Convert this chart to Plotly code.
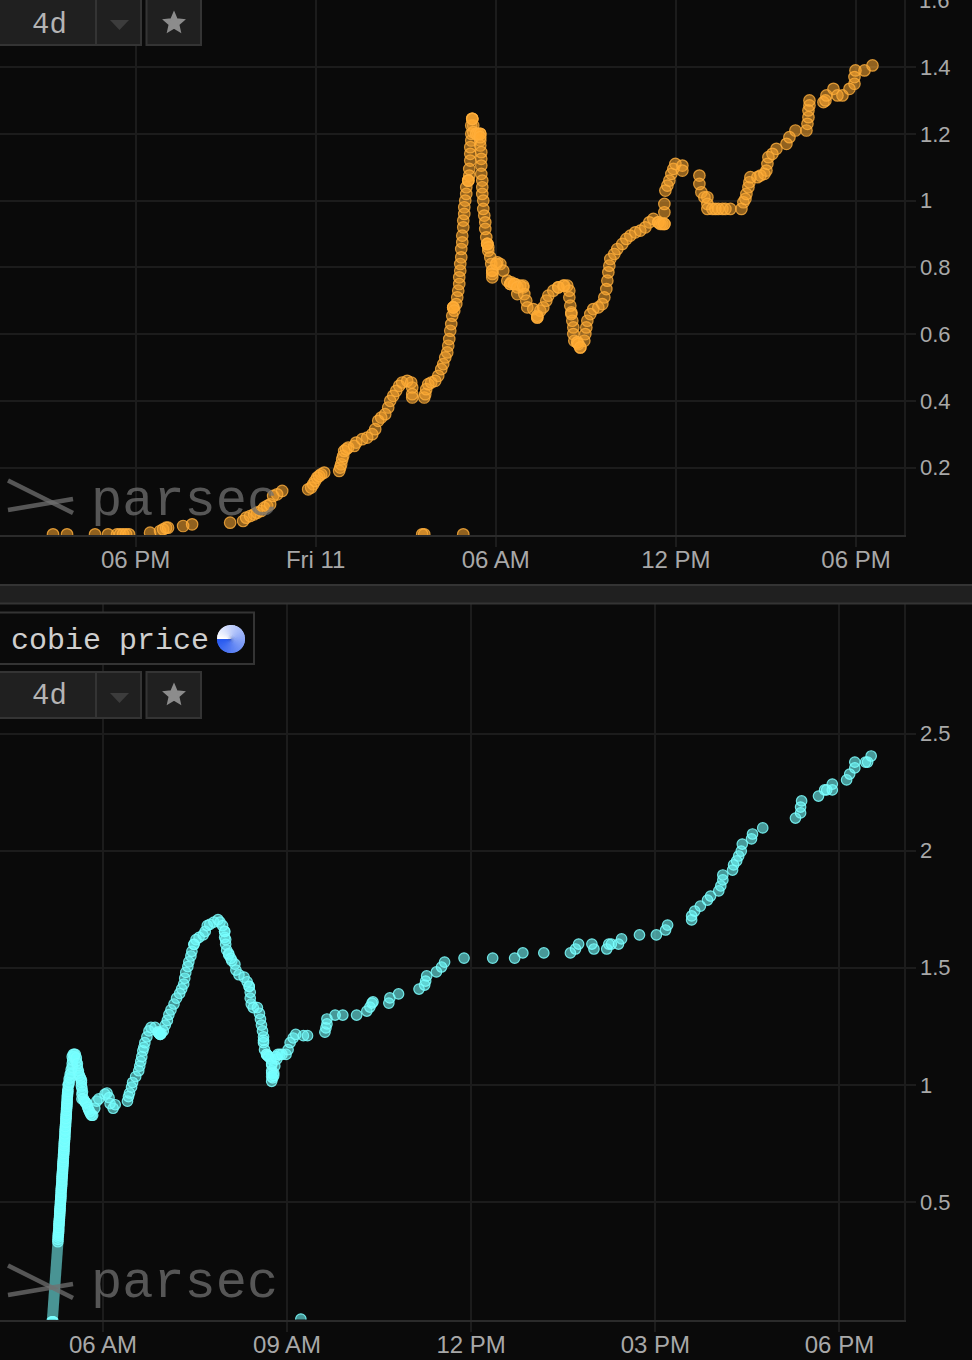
import math
import plotly.graph_objects as go

# ---------- data (minutes after the first tick, price) ----------
top_tick_minutes = [0, 360, 720, 1080, 1440]
top_tick_labels = ["06 PM", "Fri 11", "06 AM", "12 PM", "06 PM"]
top_price_ticks = [0.2, 0.4, 0.6, 0.8, 1.0, 1.2, 1.4]
top_price_labels = ["0.2", "0.4", "0.6", "0.8", "1", "1.2", "1.4"]

top_points = [
    (-165,0),(-137,0),(-81,0),(-55,0),(-37,0),(-31,0),(-25,0),(-19,0),(-13,0),(29,.005),(49,.01),(55,.015),(61,.02),(65,.02),
    (95,.025),(113,.03),(189,.035),(215,.04),(221,.05),(229,.055),(237,.06),(243,.065),(251,.07),(257,.08),(263,.085),(269,.09),
    (275,.115),(283,.12),(293,.13),(345,.135),(351,.14),(355,.15),(359,.16),(363,.17),(367,.175),(371,.18),(377,.185),
    (407,.19),(409,.2),(411,.21),(413,.225),(415,.235),(417,.25),(421,.255),(425,.26),(437,.265),(441,.275),(453,.285),(463,.29),
    (473,.3),(479,.315),(485,.34),(491,.35),(499,.36),(505,.38),(509,.4),(515,.415),(521,.43),(527,.445),(533,.455),(543,.46),
    (551,.455),(553,.44),(553,.42),(553,.41),(573,0),(577,0),(655,0),(577,.41),(579,.42),(581,.435),(585,.45),(591,.455),(599,.46),
    (605,.475),(611,.495),(615,.51),(619,.53),(623,.545),(625,.565),(627,.585),(629,.61),(631,.63),(633,.655),(635,.68),(641,.69),
    (643,.71),(645,.73),(647,.75),(647,.77),(649,.79),(649,.81),(651,.83),(651,.855),(653,.875),(653,.895),(655,.92),(655,.94),
    (657,.96),(657,.98),(659,1.0),(661,1.02),(661,1.04),(665,1.06),(667,1.075),(667,1.095),(669,1.12),(669,1.14),(669,1.16),
    (671,1.18),(671,1.2),(671,1.225),(673,1.245),(675,1.225),(675,1.205),(681,1.2),(689,1.2),(689,1.18),(689,1.165),(691,1.145),
    (691,1.125),(691,1.105),(691,1.08),(693,1.06),(693,1.04),(693,1.02),(695,1.0),(695,.975),(697,.955),(699,.935),(699,.915),
    (701,.89),(703,.87),(705,.85),(709,.83),(711,.81),(713,.79),(713,.77),(723,.815),(729,.81),(735,.79),(743,.76),(749,.75),
    (759,.75),(763,.72),(769,.745),(775,.74),(777,.72),(781,.70),(783,.68),(795,.675),(803,.65),(809,.67),(815,.68),(821,.70),
    (825,.715),(835,.73),(845,.74),(855,.745),(863,.745),(867,.73),(867,.71),(869,.685),(871,.665),(873,.64),(875,.62),(875,.6),
    (877,.58),(883,.575),(889,.56),(897,.58),(899,.6),(901,.62),(903,.64),(909,.66),(915,.675),(925,.68),(933,.69),(937,.71),
    (941,.735),(943,.76),(945,.785),(947,.805),(949,.825),(957,.84),(963,.855),(973,.87),(981,.885),(989,.895),(999,.905),
    (1009,.91),(1019,.92),(1027,.935),(1035,.945),(1045,.935),(1057,.93),(1057,.965),(1057,.99),(1059,1.03),(1063,1.045),
    (1067,1.06),(1071,1.08),(1075,1.095),(1079,1.11),(1093,1.105),(1093,1.09),(1127,1.075),(1127,1.05),(1131,1.025),(1137,1.01),
    (1143,1.01),(1143,.99),(1143,.975),(1153,.975),(1159,.975),(1165,.975),(1173,.975),(1179,.975),(1189,.975),(1211,.975),
    (1215,.995),(1219,1.005),(1221,1.02),(1225,1.04),(1227,1.055),(1229,1.07),(1243,1.07),(1249,1.075),(1257,1.08),(1261,1.09),
    (1263,1.11),(1265,1.13),(1273,1.14),(1281,1.155),(1301,1.17),(1307,1.19),(1319,1.21),(1341,1.21),(1343,1.23),(1345,1.25),
    (1345,1.27),(1347,1.285),(1347,1.3),(1375,1.295),(1379,1.3),(1381,1.315),(1395,1.335),(1403,1.315),(1413,1.315),(1427,1.335),
    (1437,1.35),(1437,1.37),(1439,1.39),(1457,1.39),(1473,1.405),
    # repeated trades that brighten the busy spots
    (665,1.06),(665,1.06),(673,1.245),(673,1.245),(681,1.2),(685,1.2),(689,1.2),(689,1.19),(635,.68),(635,.68),(637,.67),(703,.87),
    (703,.87),(705,.86),(713,.79),(713,.78),(721,.81),(749,.75),(751,.755),(757,.75),(763,.74),(775,.745),(803,.65),(803,.655),
    (845,.74),(857,.745),(871,.66),(883,.575),(885,.57),(889,.56),(1045,.935),(1049,.93),(1053,.93),(1057,.93),
]

bottom_tick_minutes = [0, 180, 360, 540, 720]
bottom_tick_labels = ["06 AM", "09 AM", "12 PM", "03 PM", "06 PM"]
bottom_price_ticks = [0.5, 1.0, 1.5, 2.0, 2.5]
bottom_price_labels = ["0.5", "1", "1.5", "2", "2.5"]

bottom_first_leg_minutes = [-49.5, -44]
bottom_first_leg_values = [-0.01, 0.325]

bottom_points = [
    (-50,-.012),(-49.5,-.012),(-49,-.012),(-48.5,-.012),
    (-44,.33),(-43.8,.35),(-43.5,.365),(-43.2,.38),(-43,.40),(-42.8,.415),(-42.5,.43),(-42.2,.45),(-42,.465),(-41.8,.48),(-41.5,.50),
    (-41.2,.515),(-41,.53),(-40.8,.55),(-40.5,.565),(-40.2,.58),(-40,.60),(-39.8,.615),(-39.5,.63),(-39.2,.65),(-39,.665),(-38.8,.68),
    (-38.5,.70),(-38.2,.715),(-38,.73),(-37.8,.75),(-37.5,.765),(-37.2,.78),(-37,.80),(-36.8,.815),(-36.5,.83),(-36.2,.85),(-36,.865),
    (-35.8,.88),(-35.5,.90),(-35.2,.915),(-35,.93),(-34.8,.95),(-34.5,.965),(-34.2,.98),
    (-43.9,.34),(-43.6,.358),(-43.3,.372),(-43.1,.39),(-42.9,.407),(-42.6,.422),(-42.3,.44),(-42.1,.457),(-41.9,.472),(-41.6,.49),
    (-41.3,.507),(-41.1,.522),(-40.9,.54),(-40.6,.557),(-40.3,.572),(-40.1,.59),(-39.9,.607),(-39.6,.622),(-39.3,.64),(-39.1,.657),
    (-38.9,.672),(-38.6,.69),(-38.3,.707),(-38.1,.722),(-37.9,.74),(-37.6,.757),(-37.3,.772),(-37.1,.79),(-36.9,.807),(-36.6,.822),
    (-36.3,.84),(-36.1,.857),(-35.9,.872),(-35.6,.89),(-35.3,.907),(-35.1,.922),(-34.9,.94),(-34.6,.957),(-34.3,.972),
    (-34,1.0),(-33,1.025),(-32,1.045),(-31,1.065),(-30,1.09),(-30,1.12),(-29,1.13),(-27,1.13),(-26,1.10),(-25,1.075),(-24,1.05),
    (-22,1.03),(-21,1.01),(-20.5,.985),(-20.5,.96),(-20.5,.94),(-18,.93),(-16,.92),(-14,.895),(-12,.875),(-10,.87),(-8,.90),(-6,.93),
    (-33.5,1.0),(-33,1.01),(-32,1.03),(-31,1.05),(-30,1.075),(-29.5,1.105),(-28,1.12),(-28,1.13),(-26,1.115),(-25,1.09),(-24,1.06),
    (-23,1.04),(-21,1.02),(-21,.995),(-20,.97),(-19,.94),(-17,.925),(-15,.905),(-13,.885),(-11,.87),
    (-4,.94),(2,.96),(4,.965),(6,.945),(7,.92),(10,.90),(12,.915),(24,.93),(25,.95),(26,.965),(28,.99),(29,1.01),(32,1.035),(35,1.06),
    (36,1.08),(37,1.10),(38,1.12),(39,1.145),(40,1.16),(41,1.18),(43,1.205),(45,1.23),(47,1.245),(51,1.245),(54,1.225),(56,1.215),
    (59,1.23),(61,1.255),(63,1.275),(64.5,1.30),(66.5,1.32),(69.5,1.345),(72,1.37),(75,1.39),(77,1.41),(79,1.43),(80,1.455),(81,1.48),
    (83,1.505),(84,1.525),(86,1.55),(87,1.57),(89,1.6),(91,1.62),(94,1.63),(98,1.64),(100,1.655),(102,1.68),(104.5,1.685),(108.5,1.695),
    (112.5,1.705),(114.5,1.695),(117,1.68),(119,1.655),(119,1.63),(120,1.6),(121,1.575),(123,1.555),(126,1.53),(129,1.515),(130,1.49),
    (133,1.47),(138,1.46),(141,1.44),(143,1.42),(144,1.395),(144,1.37),(145,1.345),(147,1.33),(151,1.33),(153,1.305),(154,1.28),
    (155,1.255),(156,1.23),(157,1.205),(157,1.18),(158,1.15),(160,1.13),(164,1.11),(165,1.085),(165,1.06),(165,1.035),(165,1.015),
    (167,1.05),(168,1.08),(170,1.11),(173,1.13),(179,1.13),(181,1.15),(183,1.18),(186,1.2),(188.5,1.215),(193.5,0),(196,1.21),(200,1.21),
    (54,1.225),(55,1.22),(56,1.215),(57,1.22),(89,1.6),(119,1.655),(120,1.62),(123,1.56),(125,1.54),(143,1.42),(157,1.19),(160,1.13),
    (161,1.125),(162,1.12),(165,1.09),(165,1.05),(166,1.03),(167,1.04),(169,1.12),(171,1.13),(175,1.13),
    (217,1.225),(218,1.243),(219,1.26),(219,1.281),(227,1.298),(234.5,1.298),(248,1.298),(258,1.315),(261,1.332),(263,1.349),(264,1.354),
    (279.5,1.349),(280.5,1.371),(289,1.388),(309,1.409),(314.5,1.426),(315.5,1.443),(316.5,1.465),(326,1.482),(331,1.503),(334,1.524),
    (353,1.541),(381,1.541),(402.5,1.541),(410.5,1.563),(431,1.563),(457,1.563),(462,1.58),(465,1.601),(478,1.601),(480,1.58),(492.5,1.58),
    (494.5,1.601),(497,1.601),(504,1.601),(507,1.623),(524.5,1.64),(541,1.64),(550,1.661),(552,1.682),(575.5,1.704),(575.5,1.721),
    (578.5,1.742),(584,1.763),(591,1.789),(594,1.806),(602,1.828),(604,1.849),(606,1.875),(606,1.896),(615.5,1.917),(616.5,1.939),
    (619.5,1.956),(621.5,1.977),(624,1.998),(625,2.028),(634,2.05),(635,2.071),(645,2.097),(677,2.139),(682,2.161),(682,2.186),(683,2.212),
    (699.5,2.233),(705.5,2.259),(707.5,2.259),(713,2.259),(713,2.284),(727,2.302),(730,2.327),(735,2.353),(735,2.378),(745.5,2.378),
    (747.5,2.378),(751,2.404),
]

top_minutes = [p[0] for p in top_points]
top_values = [p[1] for p in top_points]
bottom_minutes = [p[0] for p in bottom_points]
bottom_values = [p[1] for p in bottom_points]

# ---------- page geometry / colours ----------
W, H = 972, 1360
BG = "#0a0a0a"
GRID = "#1c1c1c"
AXIS = "#2b2b2b"
PANEL = "#202020"
EDGE = "#343434"
TICKTXT = "#a8a8a8"
MARK = "rgba(112,112,112,0.75)"
SANS = "Liberation Sans"
MONO = "Liberation Mono"


def px(x):
    return x / W


def py(y):
    return 1 - y / H


def rect(x0, y0, x1, y1, fill, line=EDGE, width=2):
    return dict(type="rect", xref="paper", yref="paper", layer="above",
                x0=px(x0), x1=px(x1), y0=py(y0), y1=py(y1),
                fillcolor=fill, line=dict(color=line, width=width))


def seg(x0, y0, x1, y1, color, width):
    return dict(type="line", xref="paper", yref="paper", layer="above",
                x0=px(x0), x1=px(x1), y0=py(y0), y1=py(y1),
                line=dict(color=color, width=width))


def poly(points, fill, outline=0):
    d = "M " + " L ".join(f"{px(a):.5f},{py(b):.5f}" for a, b in points) + " Z"
    return dict(type="path", xref="paper", yref="paper", layer="above", path=d,
                fillcolor=fill, line=dict(width=outline, color=fill))


def text(x, y, s, size, color, family=MONO):
    return dict(x=px(x), y=py(y), xref="paper", yref="paper", text=s, showarrow=False,
                xanchor="center", yanchor="middle", font=dict(family=family, size=size, color=color))


fig = go.Figure()
fig.add_trace(go.Scatter(
    x=top_minutes, y=top_values, mode="markers", xaxis="x", yaxis="y", showlegend=False,
    marker=dict(size=11.5, color="rgba(255,170,50,0.55)", line=dict(color="rgba(255,175,60,0.8)", width=1.2)),
))
fig.add_trace(go.Scatter(
    x=bottom_first_leg_minutes, y=bottom_first_leg_values, mode="lines", xaxis="x2", yaxis="y2", showlegend=False,
    line=dict(color="rgba(115,240,240,0.6)", width=11),
))
fig.add_trace(go.Scatter(
    x=bottom_minutes, y=bottom_values, mode="markers", xaxis="x2", yaxis="y2", showlegend=False,
    marker=dict(size=10.5, color="rgba(115,255,255,0.58)", line=dict(color="rgba(125,255,255,0.85)", width=1.2)),
))

axis_common = dict(showgrid=True, gridcolor=GRID, gridwidth=2, zeroline=False, ticks="outside",
                   ticklen=10, tickwidth=2, tickcolor=GRID)
x_font = dict(family=SANS, size=24, color=TICKTXT)
y_font = dict(family=SANS, size=22, color=TICKTXT)
fig.update_layout(
    width=W, height=H, margin=dict(l=0, r=0, t=0, b=0), paper_bgcolor=BG, plot_bgcolor=BG,
    xaxis=dict(axis_common, domain=[0, px(903.5)], range=[-271, 1535], anchor="y", tickmode="array", tickfont=x_font,
               ticklabelstandoff=-8, tickvals=top_tick_minutes, ticktext=top_tick_labels, showline=True, linecolor=AXIS, linewidth=2),
    yaxis=dict(axis_common, domain=[py(535), 1], range=[-0.002, 1.601], anchor="x", side="right", tickmode="array", tickfont=y_font,
               tickvals=top_price_ticks, ticktext=top_price_labels, showline=True, linecolor=GRID, linewidth=2),
    xaxis2=dict(axis_common, domain=[0, px(903.5)], range=[-100.6, 782.6], anchor="y2", tickmode="array", tickfont=x_font,
                ticklabelstandoff=-7, tickvals=bottom_tick_minutes, ticktext=bottom_tick_labels, showline=True, linecolor=AXIS, linewidth=2),
    yaxis2=dict(axis_common, domain=[py(1319.5), py(604)], range=[-0.002, 3.053], anchor="x2", side="right", tickmode="array", tickfont=y_font,
                tickvals=bottom_price_ticks, ticktext=bottom_price_labels, showline=True, linecolor=GRID, linewidth=2),
)

shapes = [rect(-3, 585, 975, 603.5, PANEL)]
annotations = [text(934, 1, "1.6", 22, TICKTXT, SANS)]

# watermarks
for dy_logo, dy_word in ((0, 0), (785, 782)):
    shapes.append(seg(8, 480.5 + dy_logo, 73, 513 + dy_logo, MARK, 4.5))
    shapes.append(seg(8, 510 + dy_logo, 73, 499 + dy_logo, MARK, 4.5))
    annotations.append(text(184, 501 + dy_word, "parsec", 52, MARK))


def star(cx, cy):
    pts = []
    for k in range(10):
        r = 10 if k % 2 == 0 else 4.6
        a = -math.pi / 2 + k * math.pi / 5
        pts.append((cx + r * math.cos(a), cy + r * math.sin(a)))
    return poly(pts, "#8c8c8c", 2)


# toolbar buttons
for top, label_y, star_y in ((0, 25, 23), (673, 697, 695)):
    shapes.append(rect(-3, top - 1, 141, top + 45, PANEL))
    shapes.append(seg(96, top, 96, top + 45, EDGE, 2))
    shapes.append(rect(146.5, top - 1, 201, top + 45, PANEL))
    shapes.append(poly([(110, top + 20), (129, top + 20), (119.5, top + 30)], "#3c3c3c"))
    shapes.append(star(174, star_y))
    annotations.append(text(49, label_y, "4d", 29, "#b4b4b4"))

# title box
shapes.append(rect(-3, 612.5, 254, 664, BG))
annotations.append(text(110, 641, "cobie price", 30, "#cfcfcf"))

# round loader beside the title
wedges = []
n = 40
for i in range(n):
    a0 = math.pi + 2 * math.pi * i / n
    a1 = min(3 * math.pi, math.pi + 2 * math.pi * (i + 1.9) / n)
    t = i / (n - 1)
    col = "rgb(%d,%d,%d)" % (255 - 215 * t ** 0.9, 255 - 165 * t ** 0.9, 255 - 15 * t)
    pts = [(231, 639)]
    for k in range(5):
        a = a0 + (a1 - a0) * k / 4
        pts.append((231 + 14 * math.cos(a), 639 + 14 * math.sin(a)))
    wedges.append(poly(pts, col))

fig.update_layout(shapes=shapes + wedges, annotations=annotations)

fig.write_html("out.html", config=dict(displayModeBar=False),
               post_script="document.body.style.margin='0';document.body.style.background='#0a0a0a';document.documentElement.style.overflow='hidden';")
